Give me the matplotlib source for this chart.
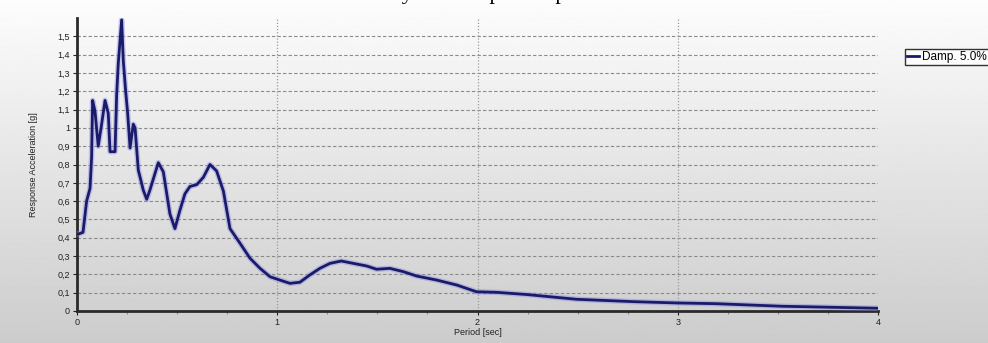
import numpy as np
import matplotlib
matplotlib.use("Agg")
import matplotlib.pyplot as plt
from matplotlib.ticker import FixedLocator, MultipleLocator
from matplotlib.font_manager import FontProperties

# Response spectrum, 5% damping: period [s] vs spectral acceleration [g]
period = [0.0, 0.007, 0.03, 0.048, 0.065, 0.073, 0.078, 0.09, 0.106, 0.123,
          0.14, 0.156, 0.165, 0.19, 0.198, 0.206, 0.223, 0.231, 0.243, 0.253,
          0.265, 0.281, 0.29, 0.306, 0.331, 0.348, 0.364, 0.406, 0.431, 0.464,
          0.489, 0.514, 0.539, 0.564, 0.598, 0.631, 0.664, 0.697, 0.731, 0.764,
          0.814, 0.864, 0.914, 0.964, 1.013, 1.063, 1.113, 1.163, 1.213, 1.263,
          1.32, 1.38, 1.446, 1.496, 1.562, 1.629, 1.696, 1.796, 1.896, 1.995,
          2.095, 2.245, 2.495, 2.78, 2.994, 3.19, 3.52, 4.0]
accel = [0.42, 0.42, 0.43, 0.60, 0.67, 0.84, 1.15, 1.09, 0.90, 1.02,
         1.15, 1.08, 0.87, 0.87, 1.18, 1.35, 1.59, 1.37, 1.20, 1.08,
         0.89, 1.02, 1.00, 0.77, 0.66, 0.61, 0.66, 0.81, 0.76, 0.53,
         0.45, 0.55, 0.64, 0.68, 0.69, 0.73, 0.80, 0.765, 0.655, 0.45,
         0.37, 0.288, 0.233, 0.187, 0.169, 0.151, 0.157, 0.197, 0.233, 0.26,
         0.273, 0.26, 0.246, 0.228, 0.233, 0.215, 0.191, 0.169, 0.142, 0.105,
         0.102, 0.09, 0.064, 0.051, 0.044, 0.04, 0.026, 0.015]

y_ticks = [0, 0.1, 0.2, 0.3, 0.4, 0.5, 0.6, 0.7, 0.8, 0.9, 1.0, 1.1, 1.2, 1.3, 1.4, 1.5]
y_labels = ["0", "0,1", "0,2", "0,3", "0,4", "0,5", "0,6", "0,7", "0,8", "0,9",
            "1", "1,1", "1,2", "1,3", "1,4", "1,5"]
x_ticks = [0, 1, 2, 3, 4]
x_labels = ["0", "1", "2", "3", "4"]
series_name = "Damp. 5.0%"
title = "Acceleration history with response spectrum"

W, H = 988, 343
fig = plt.figure(figsize=(W / 100, H / 100), dpi=100)

# vertical grey gradient background
bg = fig.add_axes([0, 0, 1, 1], zorder=-10)
grad = np.linspace(0.99, 0.80, 256).reshape(-1, 1)
bg.imshow(grad, aspect="auto", cmap="gray", vmin=0, vmax=1,
          extent=[0, 1, 0, 1], origin="upper")
bg.axis("off")

# title sitting just above the top edge of the canvas; anchor it so that the
# stem of the "p" in "response" lands at x = 491 px
title_font = FontProperties(family="Liberation Serif", size=16)
renderer = fig.canvas.get_renderer()
prefix = title[:title.index("response") + 3]
w_prefix, _, _ = renderer.get_text_width_height_descent(prefix, title_font, ismath=False)
x_title = 490 - w_prefix
fig.text(x_title / W, 1 + 0.5 / H, title, fontproperties=title_font,
         ha="left", va="baseline", color="black")

left, right = 77 / W, 878 / W
bottom, top = 1 - 311 / H, 1 - 18 / H
ax = fig.add_axes([left, bottom, right - left, top - bottom])
ax.patch.set_alpha(0)

ax.plot(period, accel, color="#8c8ce0", lw=4.0, alpha=0.45,
        solid_joinstyle="round", zorder=3)
line, = ax.plot(period, accel, color="#1a1a6a", lw=2.0,
                solid_joinstyle="round", zorder=4, label=series_name)

ax.set_xlim(0, 4)
ax.set_ylim(0, 1.6)

ax.yaxis.set_major_locator(FixedLocator(y_ticks))
ax.set_yticklabels(y_labels)
ax.xaxis.set_major_locator(FixedLocator(x_ticks))
ax.set_xticklabels(x_labels)
ax.xaxis.set_minor_locator(MultipleLocator(0.25))

ax.tick_params(axis="both", which="major", labelsize=6.5, colors="#222222",
               length=3, width=0.8, pad=2)
ax.tick_params(axis="x", which="minor", length=2, width=0.8, colors="#888888")

for t in ax.get_xticklabels() + ax.get_yticklabels():
    t.set_family("Liberation Sans")

# horizontal dashed and vertical dotted grid
for yv in y_ticks[1:]:
    ax.axhline(yv, color="#8a8a8a", lw=0.8, ls=(0, (3, 2)), zorder=1)
for xv in [1, 2, 3]:
    ax.axvline(xv, color="#9a9a9a", lw=0.9, ls=(0, (1, 1.5)), zorder=1)

for s in ["top", "right"]:
    ax.spines[s].set_visible(False)
for s in ["left", "bottom"]:
    ax.spines[s].set_color("#2a2a2a")
    ax.spines[s].set_linewidth(2.0)

ax.set_xlabel("Period [sec]", fontsize=6.5, family="Liberation Sans",
              color="#222222", labelpad=1)
ax.set_ylabel("Response Acceleration [g]", fontsize=6.5, family="Liberation Sans",
              color="#222222", labelpad=14)

leg = fig.legend(handles=[line], loc="upper left",
                 bbox_to_anchor=(905 / W, 1 - 49 / H),
                 fontsize=8.5, frameon=True, fancybox=False,
                 handlelength=1.0, handletextpad=0.3, borderpad=0.15,
                 borderaxespad=0)
leg.get_frame().set_edgecolor("black")
leg.get_frame().set_linewidth(1.0)
leg.get_frame().set_facecolor("white")
for t in leg.get_texts():
    t.set_family("Liberation Sans")

fig.savefig("out.png", dpi=100)
